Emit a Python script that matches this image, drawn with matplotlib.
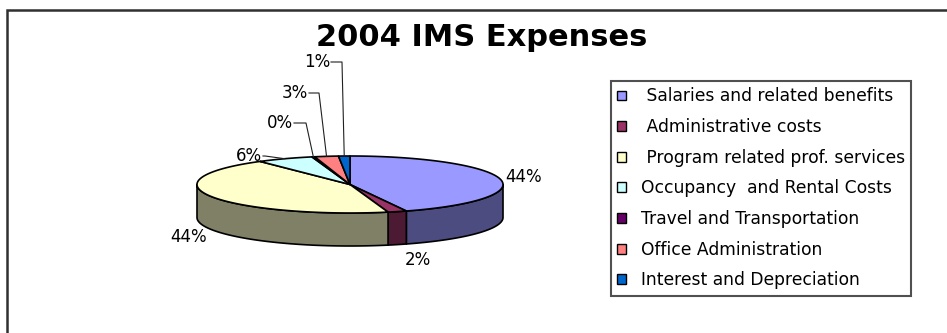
import numpy as np
import matplotlib
matplotlib.use("Agg")
import matplotlib.pyplot as plt
from matplotlib.patches import Polygon, Patch
from matplotlib.lines import Line2D

# ---------------- data ----------------
title = "2004 IMS Expenses"
categories = ["Salaries and related benefits", "Administrative costs",
              "Program related prof. services", "Occupancy  and Rental Costs",
              "Travel and Transportation", "Office Administration",
              "Interest and Depreciation"]
legend_labels = [" Salaries and related benefits", " Administrative costs",
                 " Program related prof. services", "Occupancy  and Rental Costs",
                 "Travel and Transportation", "Office Administration",
                 "Interest and Depreciation"]
values = [44.0, 2.0, 44.0, 6.0, 0.3, 2.5, 1.2]

# ---------------- style / layout ----------------
top_colors = ["#9999FF", "#993366", "#FFFFCC", "#CCFFFF", "#660066", "#FF8080", "#0066CC"]
side_colors = ["#4C4C80", "#4C1A33", "#808066", "#668080", "#330033", "#804040", "#003366"]
W, H = 947, 333
cx, cy, rx, ry, depth = 350, 184.5, 153, 28.5, 33
# label anchor (x, y, ha) and whether it uses a leader line
label_layout = [(505, 177, "left"), (418, 260, "center"), (207, 237, "right"),
                (262, 156, "right"), (293, 123, "right"), (308, 93, "right"),
                (330, 62, "right")]
leader = [False, False, False, True, True, True, True]
leader_elbow = [0, 0, 0, 3, 13, 11, 12]

plt.rcParams['font.family'] = ['DejaVu Sans']

fig = plt.figure(figsize=(W / 100, H / 100), dpi=100)
ax = fig.add_axes([0, 0, 1, 1])
ax.set_xlim(0, W)
ax.set_ylim(H, 0)
ax.axis("off")

# outer chart border (cut by the image edge at right and bottom)
ax.add_line(Line2D([7, 7, W + 5], [H + 5, 10, 10], color="#303030", lw=1.8,
                   solid_joinstyle="miter"))

def pt(theta_deg, dy=0.0):
    t = np.radians(theta_deg)
    return cx + rx * np.cos(t), cy - ry * np.sin(t) + dy

vals = np.array(values)
fracs = vals / vals.sum()
ends = 90 - 360 * np.cumsum(fracs)
starts = np.concatenate([[90], ends[:-1]])

# side faces (front half: angles between -180 and 0)
for i in range(len(vals)):
    hi, lo = starts[i], ends[i]
    a = min(hi, 0.0)
    b = max(lo, -180.0)
    if a <= b:
        continue
    th = np.linspace(a, b, 60)
    top = [pt(t) for t in th]
    bot = [pt(t, depth) for t in th[::-1]]
    ax.add_patch(Polygon(top + bot, closed=True, facecolor=side_colors[i],
                         edgecolor="black", lw=1.2, joinstyle="round"))

# top faces
for i in range(len(vals)):
    th = np.linspace(starts[i], ends[i], max(4, int(abs(starts[i] - ends[i]) * 2)))
    poly = [(cx, cy)] + [pt(t) for t in th]
    ax.add_patch(Polygon(poly, closed=True, facecolor=top_colors[i],
                         edgecolor="black", lw=1.2, joinstyle="round"))

# labels
for i, v in enumerate(vals):
    txt = f"{int(v + 0.5)}%"
    x, y, ha = label_layout[i]
    ax.text(x, y, txt, ha=ha, va="center", fontsize=12, color="black")
    if leader[i]:
        mid = (starts[i] + ends[i]) / 2
        ax_, ay_ = pt(mid)
        ex = x + leader_elbow[i]
        ax.add_line(Line2D([x + 1, ex, ax_], [y, y, ay_], color="#202020", lw=0.8))

# title
ax.text(482, 38, title, ha="center", va="center", fontsize=22, fontweight="bold")

# legend
handles = [Patch(facecolor=c, edgecolor="black", lw=1.0) for c in top_colors]
leg = ax.legend(handles, legend_labels, loc="upper left",
                bbox_to_anchor=(611 / W, 1 - 81 / H), bbox_transform=fig.transFigure,
                borderaxespad=0, fontsize=12.3, handlelength=0.5, handleheight=0.5,
                handletextpad=0.85, labelspacing=0.74, borderpad=0.38,
                fancybox=False, framealpha=1, edgecolor="#505050")
leg.get_frame().set_linewidth(1.5)

fig.savefig("out.png", dpi=100)
